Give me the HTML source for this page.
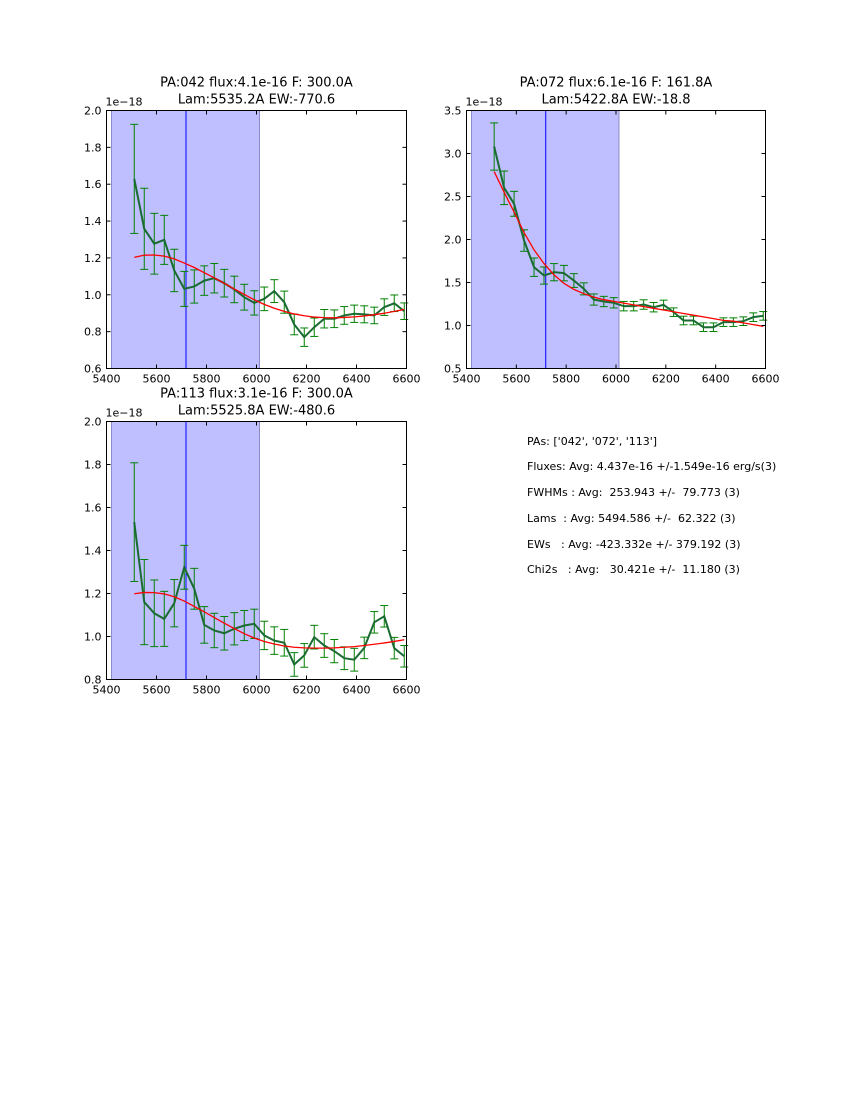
<!DOCTYPE html>
<html><head><meta charset="utf-8"><style>
body{margin:0;background:#fff}
svg{display:block;font-family:"DejaVu Sans","Liberation Sans",sans-serif}
</style></head><body>
<svg id="fig" width="850" height="1100" viewBox="0 0 850 1100" xmlns="http://www.w3.org/2000/svg">
<rect width="850" height="1100" fill="#fff"/>
<g font-size="11" fill="#000" style="white-space:pre">
<text x="527" y="445" xml:space="preserve">PAs: ['042', '072', '113']</text>
<text x="527" y="470" xml:space="preserve">Fluxes: Avg: 4.437e-16 +/-1.549e-16 erg/s(3)</text>
<text x="527" y="496" xml:space="preserve">FWHMs : Avg:  253.943 +/-  79.773 (3)</text>
<text x="527" y="522" xml:space="preserve">Lams  : Avg: 5494.586 +/-  62.322 (3)</text>
<text x="527" y="548" xml:space="preserve">EWs   : Avg: -423.332e +/- 379.192 (3)</text>
<text x="527" y="573" xml:space="preserve">Chi2s   : Avg:   30.421e +/-  11.180 (3)</text>
</g>
</svg>
<script>
// shared wavelength grid (Angstrom)
const wave = [5511,5551,5591,5631,5671,5711,5751,5791,5831,5871,5911,5951,5991,6031,6071,6111,6151,6191,6231,6271,6311,6351,6391,6431,6471,6511,6551,6591];
const xTicks = [5400,5600,5800,6000,6200,6400,6600];

const flux1 = [1.629,1.358,1.277,1.298,1.132,1.032,1.045,1.077,1.090,1.063,1.029,0.987,0.956,0.978,1.020,0.960,0.839,0.770,0.824,0.870,0.870,0.888,0.897,0.894,0.888,0.933,0.954,0.911];
const err1 = [0.296,0.22,0.165,0.133,0.115,0.095,0.09,0.08,0.08,0.075,0.072,0.07,0.066,0.064,0.062,0.06,0.056,0.05,0.05,0.05,0.048,0.048,0.047,0.046,0.045,0.045,0.045,0.045];
const fit1 = [1.203,1.215,1.216,1.21,1.195,1.172,1.148,1.12,1.092,1.062,1.032,1.002,0.973,0.948,0.927,0.91,0.896,0.886,0.879,0.876,0.875,0.877,0.88,0.885,0.892,0.9,0.91,0.92];
const yTicks1 = ["0.6","0.8","1.0","1.2","1.4","1.6","1.8","2.0"];

const flux2 = [3.081,2.601,2.415,1.988,1.678,1.581,1.620,1.609,1.523,1.426,1.302,1.279,1.264,1.225,1.225,1.244,1.213,1.24,1.155,1.058,1.058,0.980,0.980,1.039,1.039,1.05,1.097,1.112];
const err2 = [0.275,0.195,0.145,0.125,0.107,0.1,0.1,0.09,0.08,0.07,0.065,0.06,0.06,0.055,0.055,0.055,0.055,0.055,0.05,0.05,0.05,0.05,0.05,0.05,0.05,0.05,0.05,0.05];
const fit2 = [2.79,2.55,2.32,2.08,1.88,1.72,1.59,1.49,1.42,1.37,1.33,1.30,1.28,1.26,1.24,1.22,1.2,1.18,1.16,1.14,1.12,1.10,1.08,1.06,1.05,1.03,1.01,0.99];
const yTicks2 = ["0.5","1.0","1.5","2.0","2.5","3.0","3.5"];

const flux3 = [1.532,1.160,1.108,1.082,1.155,1.322,1.222,1.054,1.028,1.015,1.036,1.051,1.059,1.005,0.981,0.971,0.870,0.912,0.997,0.958,0.932,0.899,0.892,0.947,1.066,1.094,0.946,0.908];
const err3 = [0.276,0.198,0.155,0.128,0.11,0.102,0.095,0.085,0.08,0.078,0.075,0.07,0.068,0.066,0.064,0.062,0.055,0.055,0.055,0.055,0.054,0.053,0.053,0.05,0.05,0.05,0.05,0.05];
const fit3 = [1.199,1.205,1.204,1.198,1.185,1.165,1.14,1.115,1.088,1.062,1.037,1.013,0.993,0.977,0.965,0.956,0.95,0.947,0.946,0.946,0.947,0.95,0.953,0.958,0.964,0.97,0.977,0.985];
const yTicks3 = ["0.8","1.0","1.2","1.4","1.6","1.8","2.0"];

const NS = "http://www.w3.org/2000/svg";
const fig = document.getElementById('fig');
function mk(tag, attrs, parent){
  const e = document.createElementNS(NS, tag);
  for (const k in attrs) e.setAttribute(k, attrs[k]);
  parent.appendChild(e); return e;
}

function panel(cfg){
  const {id,L,T,W,H,y0,y1,flux,err,fit,yTicks,t1,t2} = cfg;
  const g = mk('g', {}, fig);
  
  
  const xs = v => L + (v-5400)/1200*W;
  const ys = v => T + H - (v-y0)/(y1-y0)*H;
  // shaded region
  const sh = mk('rect', {x:xs(5420), y:T, width:xs(6012)-xs(5420), height:H, fill:'#bfbfff', stroke:'#8c8cc8', 'stroke-width':1}, g);
  
  
  const vl = mk('line', {x1:xs(5718), x2:xs(5718), y1:T, y2:T+H, stroke:'#0000ff', 'stroke-width':1}, g);
  
  
  // error bars
  const eb = mk('g', {stroke:'#008000', 'stroke-width':1}, g);
  
  
  wave.forEach((w,i)=>{
    const x = xs(w), a = ys(flux[i]+err[i]), b = ys(flux[i]-err[i]);
    mk('line', {x1:x,x2:x,y1:a,y2:b}, eb);
    mk('line', {x1:x-4,x2:x+4,y1:a,y2:a}, eb);
    mk('line', {x1:x-4,x2:x+4,y1:b,y2:b}, eb);
  });
  const gp = mk('polyline', {points: wave.map((w,i)=>xs(w)+','+ys(flux[i])).join(' '), fill:'none', stroke:'#1a6b32', 'stroke-width':2}, g);
  
  
  const rp = mk('polyline', {points: wave.map((w,i)=>xs(w)+','+ys(fit[i])).join(' '), fill:'none', stroke:'#ff0000', 'stroke-width':1.3}, g);
  
  
  // axes frame
  const fr = mk('rect', {x:L, y:T, width:W, height:H, fill:'none', stroke:'#000', 'stroke-width':1}, g);
  
  
  const tk = mk('g', {stroke:'#000', 'stroke-width':1}, g);
  
  
  const lb = mk('g', {'font-size':11, fill:'#000'}, g);
  
  
  xTicks.forEach(v=>{
    const x = xs(v);
    mk('line', {x1:x,x2:x,y1:T+H,y2:T+H-4}, tk);
    mk('line', {x1:x,x2:x,y1:T,y2:T+4}, tk);
    const t = mk('text', {x:x, y:T+H+14, 'text-anchor':'middle'}, lb); t.textContent = v;
  });
  yTicks.forEach(s=>{
    const y = ys(parseFloat(s));
    mk('line', {x1:L,x2:L+4,y1:y,y2:y}, tk);
    mk('line', {x1:L+W,x2:L+W-4,y1:y,y2:y}, tk);
    const t = mk('text', {x:L-5, y:y+4, 'text-anchor':'end'}, lb); t.textContent = s;
  });
  const off = mk('text', {x:L-1, y:T-5, 'font-size':11}, g);
  off.textContent = '1e\u221218';
  
  
  const ti = mk('text', {x:L+W/2, 'font-size':13, 'text-anchor':'middle'}, g);
  
  
  const s1 = mk('tspan', {x:L+W/2, y:T-24}, ti); s1.textContent = t1;
  const s2 = mk('tspan', {x:L+W/2, y:T-7}, ti); s2.textContent = t2;
}

panel({id:'panel-pa042', L:106.5, T:110.5, W:300, H:258, y0:0.6, y1:2.0, flux:flux1, err:err1, fit:fit1, yTicks:yTicks1,
  t1:'PA:042 flux:4.1e-16 F: 300.0A', t2:'Lam:5535.2A EW:-770.6'});
panel({id:'panel-pa072', L:466.5, T:110.5, W:299, H:258, y0:0.5, y1:3.5, flux:flux2, err:err2, fit:fit2, yTicks:yTicks2,
  t1:'PA:072 flux:6.1e-16 F: 161.8A', t2:'Lam:5422.8A EW:-18.8'});
panel({id:'panel-pa113', L:106.5, T:421.5, W:300, H:258, y0:0.8, y1:2.0, flux:flux3, err:err3, fit:fit3, yTicks:yTicks3,
  t1:'PA:113 flux:3.1e-16 F: 300.0A', t2:'Lam:5525.8A EW:-480.6'});
</script>
</body></html>
